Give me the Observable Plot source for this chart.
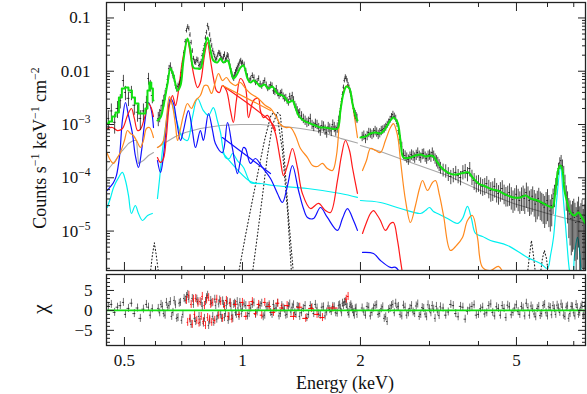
<!DOCTYPE html>
<html><head><meta charset="utf-8">
<script src="https://cdn.jsdelivr.net/npm/d3@7"></script>
<script src="https://cdn.jsdelivr.net/npm/@observablehq/plot@0.6"></script>
<style>
html,body{margin:0;padding:0;background:#fff;}
#chart{width:587px;height:394px;position:relative;overflow:hidden;}
#chart svg{display:block;}
</style></head><body><div id="chart"></div>
<script>
const FONT = "'Liberation Serif','Times New Roman',serif";

// ---- axis ticks ----
const xMajorTicks = [0.5, 1, 2, 5];
const xMinorTicks = [0.6, 0.7, 0.8, 0.9, 3, 4, 6, 7];
const yMajorTicks = [1e-5, 1e-4, 1e-3, 0.01, 0.1];
const yMinorTicks = [1e-6, 1e-5, 1e-4, 1e-3, 1e-2].flatMap(d => [2,3,4,5,6,7,8,9].map(k => k * d));
const rMajorTicks = [-5, 0, 5];
const rMinorTicks = [-8,-7,-6,-4,-3,-2,-1,1,2,3,4,6,7,8];
const xDomain = [0.45, 7.5];
const yDomain = [1.82e-6, 0.195];
const rDomain = [-8.8, 9];

// ---- model components: segments of [E keV, counts s-1 keV-1 cm-2] ----
const totalModelLow = [[0.452,1.04e-3],[0.461,1.14e-3],[0.469,1.41e-3],[0.480,1.68e-3],[0.488,3.21e-3],[0.497,4.73e-3],[0.506,4.94e-3],[0.518,4.34e-3],[0.527,3.21e-3],[0.537,2.48e-3],[0.549,1.61e-3],[0.562,1.61e-3],[0.569,2.0e-3],[0.576,4.34e-3],[0.582,6.14e-3],[0.589,4.73e-3],[0.593,2.82e-3]];
const totalModel = [
 [[0.607,1.19e-3],[0.618,1.35e-3],[0.629,2.27e-3],[0.644,5.88e-3],[0.655,0.0112],[0.667,8.3e-3],[0.683,4.34e-3],[0.695,5.39e-3],[0.707,0.0159],[0.724,0.0411],[0.737,0.0245],[0.750,0.0117],[0.768,0.0112],[0.781,0.0112],[0.795,0.0197],[0.814,0.0429],[0.829,0.0245],[0.843,0.0159],[0.863,0.0146],[0.879,0.0173],[0.894,0.0146],[0.916,0.0159],[0.932,0.0112],[0.948,7.3e-3],[0.971,9.06e-3],[0.988,0.0117],[1.006,0.0128],[1.030,7.3e-3],[1.048,6.14e-3],[1.067,6.69e-3],[1.092,5.88e-3],[1.111,5.16e-3],[1.138,5.62e-3],[1.165,4.73e-3],[1.192,5.16e-3],[1.228,3.82e-3],[1.265,3.50e-3],[1.288,3.08e-3],[1.310,2.59e-3],[1.341,2.82e-3],[1.365,2.08e-3],[1.390,1.48e-3],[1.431,1.19e-3],[1.491,1.04e-3],[1.536,9.58e-4],[1.581,8.78e-4],[1.628,8.78e-4],[1.677,8.41e-4],[1.747,8.41e-4],[1.778,1.83e-3],[1.810,3.82e-3],[1.842,5.16e-3],[1.875,4.73e-3],[1.908,2.48e-3],[1.942,1.48e-3],[1.965,1.19e-3]],
 [[2.0,5.70e-4],[2.060,5.96e-4],[2.121,6.78e-4],[2.185,7.08e-4],[2.249,6.78e-4],[2.316,8.41e-4],[2.385,1.19e-3],[2.428,1.35e-3],[2.486,1.09e-3],[2.530,5.01e-4],[2.575,2.40e-4],[2.683,2.40e-4],[2.763,2.62e-4],[2.846,2.74e-4],[2.930,2.51e-4],[3.018,2.62e-4],[3.071,2.51e-4],[3.145,1.94e-4],[3.237,1.49e-4],[3.334,1.26e-4],[3.453,1.15e-4],[3.60,1.20e-4],[3.707,1.26e-4],[3.772,1.26e-4],[3.884,9.7e-5],[4.0,7.82e-5],[4.169,6.87e-5],[4.343,6.03e-5],[4.472,5.78e-5],[4.687,4.86e-5],[4.914,4.27e-5],[5.12,4.27e-5],[5.272,4.66e-5],[5.428,4.09e-5],[5.656,3.75e-5],[5.858,3.30e-5],[6.069,2.90e-5],[6.178,2.77e-5],[6.289,5.78e-5],[6.401,1.49e-4],[6.475,1.70e-4],[6.551,1.37e-4],[6.629,5.78e-5],[6.748,3.30e-5],[6.868,2.23e-5],[7.03,1.96e-5],[7.196,2.23e-5],[7.367,1.72e-5],[7.499,1.39e-5]]
];
const grayContinuum = [
 [[0.452,1.37e-4],[0.474,2.11e-4],[0.494,3.25e-4],[0.512,4.40e-4],[0.527,5.01e-4],[0.537,5.01e-4],[0.543,1.86e-4],[0.559,2.11e-4],[0.576,2.62e-4],[0.593,2.98e-4]],
 [[0.607,3.70e-4],[0.636,4.59e-4],[0.675,5.96e-4],[0.715,7.08e-4],[0.781,8.41e-4],[0.879,9.58e-4],[0.988,1.0e-3],[1.111,1.0e-3],[1.25,9.4e-4],[1.406,8.4e-4],[1.581,7.3e-4],[1.778,5.5e-4],[1.965,4.5e-4]],
 [[2.0,4.04e-4],[2.249,3.11e-4],[2.731,1.86e-4],[3.334,1.10e-4],[4.048,5.78e-5],[4.914,3.30e-5],[5.998,2.14e-5],[7.499,1.39e-5]]
];
const redComponent = [
 [[0.452,8.41e-4],[0.466,8.78e-4],[0.480,7.71e-4],[0.494,8.41e-4],[0.509,1.48e-3],[0.521,2.0e-3],[0.530,1.30e-3],[0.540,7.71e-4],[0.549,8.05e-4],[0.562,1.30e-3],[0.576,2.48e-3],[0.586,2.0e-3],[0.593,1.41e-3]],
 [[0.607,2.40e-4],[0.618,1.94e-4],[0.629,2.30e-4],[0.640,6.22e-4],[0.651,2.27e-3],[0.663,3.50e-3],[0.675,2.27e-3],[0.687,4.34e-3],[0.703,0.0159],[0.724,0.0377],[0.737,0.0197],[0.750,9.06e-3],[0.768,4.94e-3],[0.781,6.14e-3],[0.800,0.0197],[0.814,0.0345],[0.829,0.0159],[0.843,7.62e-3],[0.858,4.34e-3],[0.874,3.98e-3],[0.889,5.39e-3],[0.910,4.34e-3],[0.932,1.83e-3],[0.948,1.09e-3],[0.965,2.82e-3],[0.988,7.3e-3],[1.018,4.94e-3],[1.036,1.35e-3],[1.067,2.82e-3],[1.098,3.08e-3],[1.111,1.83e-3],[1.131,1.35e-3],[1.158,1.48e-3],[1.192,9.58e-4],[1.214,6.78e-4],[1.25,2.11e-4],[1.273,1.10e-4],[1.303,1.70e-4],[1.341,3.55e-4],[1.381,1.56e-4],[1.422,5.08e-5],[1.491,2.65e-5],[1.563,3.30e-5],[1.628,2.43e-5],[1.677,2.23e-5],[1.747,8.89e-5],[1.789,2.62e-4],[1.831,5.01e-4],[1.875,3.25e-4],[1.908,1.56e-4],[1.965,5.08e-5]],
 [[2.024,9.02e-6],[2.072,1.45e-5],[2.121,2.14e-5],[2.159,2.43e-5],[2.21,1.96e-5],[2.249,1.58e-5],[2.316,1.03e-5],[2.385,1.39e-5],[2.428,1.45e-5],[2.486,6.66e-6],[2.530,2.81e-6],[2.575,1.2e-6]],
 [[0.889,5.39e-3],[1.192,1.04e-3],[1.214,7.7e-4]]
];
const orangeComponent = [
 [[0.452,2.86e-4],[0.461,2.11e-4],[0.469,1.86e-4],[0.480,2.40e-4],[0.488,2.98e-4],[0.500,5.01e-4],[0.509,7.71e-4],[0.518,6.78e-4],[0.527,6.22e-4],[0.540,4.59e-4],[0.549,3.70e-4],[0.559,5.01e-4],[0.569,8.41e-4],[0.579,8.78e-4],[0.593,5.70e-4]],
 [[0.607,3.70e-4],[0.618,4.04e-4],[0.629,5.01e-4],[0.640,1.30e-3],[0.651,3.35e-3],[0.663,2.27e-3],[0.675,9.58e-4],[0.683,5.01e-4],[0.695,8.41e-4],[0.707,1.48e-3],[0.724,2.48e-3],[0.741,2.0e-3],[0.759,2.82e-3],[0.781,3.50e-3],[0.800,5.39e-3],[0.814,5.39e-3],[0.834,3.82e-3],[0.848,5.39e-3],[0.869,9.06e-3],[0.889,6.69e-3],[0.910,7.62e-3],[0.932,6.14e-3],[0.960,5.39e-3],[0.988,6.14e-3],[1.018,4.73e-3],[1.048,3.82e-3],[1.079,3.35e-3],[1.111,2.82e-3],[1.145,2.27e-3],[1.179,2.0e-3],[1.214,1.48e-3],[1.25,1.0e-3],[1.288,8.78e-4],[1.326,8.78e-4],[1.365,6.22e-4],[1.406,3.55e-4],[1.465,2.40e-4],[1.509,1.70e-4],[1.554,1.63e-4],[1.600,1.86e-4],[1.647,1.49e-4],[1.697,1.37e-4],[1.737,2.62e-4],[1.778,1.83e-3],[1.821,4.73e-3],[1.853,5.39e-3],[1.886,3.98e-3],[1.920,1.83e-3],[1.965,5.70e-4]],
 [[2.024,1.37e-4],[2.072,2.11e-4],[2.121,3.55e-4],[2.185,3.25e-4],[2.249,2.98e-4],[2.316,5.01e-4],[2.385,8.78e-4],[2.428,1.04e-3],[2.486,6.22e-4],[2.530,2.11e-4],[2.606,3.75e-5],[2.683,1.45e-5],[2.763,3.02e-5],[2.829,6.30e-5],[2.880,8.89e-5],[2.965,5.78e-5],[3.053,8.16e-5],[3.107,8.89e-5],[3.182,4.66e-5],[3.258,1.96e-5],[3.393,4.33e-6],[3.515,5.37e-6],[3.641,7.59e-6],[3.750,1.58e-5],[3.861,1.96e-5],[3.976,7.59e-6],[4.096,2.08e-6],[4.293,1.82e-6],[4.498,2.17e-6],[4.65,1.5e-6]],
 [[0.889,5.4e-3],[1.179,1.83e-3]]
];
const cyanComponent = [
 [[0.452,2.77e-5],[0.461,4.27e-5],[0.469,6.58e-5],[0.483,1.01e-4],[0.494,1.26e-4],[0.503,8.89e-5],[0.512,4.66e-5],[0.521,2.14e-5],[0.533,3.02e-5],[0.543,2.14e-5],[0.556,1.58e-5],[0.573,1.96e-5],[0.589,2.14e-5]],
 [[0.607,4.09e-5],[0.614,8.89e-5],[0.625,3.25e-4],[0.640,1.19e-3],[0.655,2.82e-3],[0.671,1.68e-3],[0.687,8.78e-4],[0.703,5.70e-4],[0.724,5.01e-4],[0.745,1.35e-3],[0.768,3.08e-3],[0.795,1.83e-3],[0.819,1.48e-3],[0.843,2.08e-3],[0.863,1.19e-3],[0.879,7.08e-4],[0.905,2.40e-4],[0.926,2.30e-4],[0.943,2.86e-4],[0.971,2.11e-4],[1.006,1.56e-4],[1.048,8.16e-5],[1.079,7.82e-5],[1.111,7.82e-5],[1.200,7.17e-5],[1.465,6.30e-5],[1.778,5.08e-5],[1.965,4.3e-5]],
 [[2.0,3.75e-5],[2.249,3.44e-5],[2.530,2.65e-5],[2.846,2.14e-5],[2.930,2.43e-5],[3.0,2.77e-5],[3.071,2.33e-5],[3.145,2.14e-5],[3.334,1.72e-5],[3.536,1.39e-5],[3.641,1.72e-5],[3.750,2.90e-5],[3.838,1.72e-5],[3.930,9.02e-6],[4.096,7.92e-6],[4.293,6.66e-6],[4.742,5.37e-6],[5.333,3.2e-6],[5.756,2.47e-6],[5.998,1.99e-6],[6.106,3.48e-6],[6.215,7.59e-6],[6.33,3.75e-5],[6.475,1.56e-4],[6.590,3.75e-5],[6.708,7.59e-6],[6.827,1.82e-6],[6.95,1.0e-6],[7.03,3.48e-6],[7.155,7.59e-6],[7.239,4.33e-6],[7.33,1.0e-6]],
 [[0.889,3.0e-4],[1.048,8.5e-5],[1.111,7.8e-5]]
];
const blueComponent = [
 [[0.452,5.78e-5],[0.461,6.87e-5],[0.469,8.16e-5],[0.477,1.10e-4],[0.486,2.62e-4],[0.494,1.19e-3],[0.503,2.59e-3],[0.512,1.48e-3],[0.524,6.78e-4],[0.533,2.62e-4],[0.543,1.56e-4],[0.553,3.25e-4],[0.562,9.58e-4],[0.576,2.59e-3],[0.586,1.83e-3],[0.593,8.78e-4]],
 [[0.607,2.11e-4],[0.618,1.26e-4],[0.629,2.62e-4],[0.640,9.58e-4],[0.655,3.08e-3],[0.667,2.48e-3],[0.679,1.19e-3],[0.695,5.01e-4],[0.707,7.71e-4],[0.728,1.83e-3],[0.745,7.71e-4],[0.759,3.70e-4],[0.781,7.71e-4],[0.795,5.01e-4],[0.819,1.61e-3],[0.839,7.71e-4],[0.853,4.40e-4],[0.889,2.98e-4],[0.916,1.09e-3],[0.943,3.55e-4],[0.971,1.20e-4],[0.988,2.11e-4],[1.006,3.70e-4],[1.018,3.55e-4],[1.048,1.86e-4],[1.079,2.30e-4],[1.125,1.56e-4],[1.179,9.7e-5],[1.228,5.08e-5],[1.265,3.44e-5],[1.303,7.17e-5],[1.341,1.70e-4],[1.390,5.78e-5],[1.431,2.65e-5],[1.465,1.80e-5],[1.518,1.72e-5],[1.581,2.77e-5],[1.647,1.80e-5],[1.747,1.03e-5],[1.799,1.72e-5],[1.853,2.65e-5],[1.920,1.58e-5],[1.965,1.03e-5]],
 [[2.024,3.97e-6],[2.159,3.80e-6],[2.249,2.81e-6],[2.385,2.08e-6],[2.457,2.08e-6],[2.530,1.6e-6]],
 [[0.889,5.7e-4],[1.179,1.2e-4]]
];
const dottedLines = [
 [[0.977,1.6e-6],[1.018,8.27e-6],[1.060,3.75e-5],[1.098,1.37e-4],[1.138,5.01e-4],[1.179,1.41e-3],[1.200,1.68e-3],[1.228,1.35e-3],[1.265,3.25e-4],[1.303,2.43e-5],[1.334,1.6e-6]],
 [[1.060,1.6e-6],[1.092,8.27e-6],[1.125,4.66e-5],[1.158,2.62e-4],[1.192,9.58e-4],[1.228,1.68e-3],[1.25,1.48e-3],[1.280,2.11e-4],[1.310,1.96e-5],[1.349,1.6e-6]],
 [[0.582,1.6e-6],[0.589,3.48e-6],[0.596,6.0e-6],[0.603,3.48e-6],[0.611,1.6e-6]],
 [[5.333,1.6e-6],[5.397,3.48e-6],[5.460,6.66e-6],[5.525,3.48e-6],[5.590,1.6e-6]],
 [[5.756,1.6e-6],[5.824,3.06e-6],[5.892,4.33e-6],[5.963,3.06e-6],[6.033,1.6e-6]]
];

// ---- observed spectrum: [E keV, counts, relative error, chi residual] ----
const blackData = [
 [0.455,1.3e-3,.4,1.0],[0.463,1.8e-3,.35,1.5],[0.472,1.1e-3,.4,-0.5],[0.480,2.0e-3,.35,0.8],[0.488,2.8e-3,.3,1.2],[0.497,6.7e-3,.25,2.0],[0.503,4.0e-3,.3,-1.0],[0.512,3.1e-3,.3,0.5],[0.521,4.0e-3,.3,1.8],[0.530,2.3e-3,.35,-0.8],[0.540,1.7e-3,.35,0.6],[0.549,1.3e-3,.4,-2.0],[0.559,1.8e-3,.35,0.3],[0.569,2.6e-3,.3,1.5],[0.576,7.3e-3,.25,0.8],[0.582,5.4e-3,.25,-1.2],[0.589,3.5e-3,.3,0.4],
 [0.61,1.3e-3,.3,0.5],[0.62,1.83e-3,.25,1.5],[0.63,2.82e-3,.25,-0.8],[0.64,4.73e-3,.2,2.0],[0.65,0.0112,.15,1.2],[0.66,0.0103,.15,-1.5],[0.67,7.3e-3,.15,2.5],[0.68,4.73e-3,.15,-2.0],[0.69,5.6e-3,.15,1.8],[0.70,9.5e-3,.12,-2.5],[0.71,0.0224,.1,3.0],[0.72,0.058,.1,3.5],[0.73,0.063,.1,2.8],[0.74,0.0345,.1,-3.5],[0.75,0.0173,.1,1.5],[0.76,0.0146,.12,-2.8],[0.77,0.0159,.12,2.2],[0.78,0.0134,.12,-3.0],[0.79,0.0197,.1,1.0],[0.80,0.0303,.1,-2.0],[0.81,0.0532,.1,3.2],[0.82,0.063,.1,-3.8],[0.83,0.0377,.1,2.5],[0.84,0.0245,.1,-1.5],[0.85,0.0189,.1,2.8],[0.86,0.0173,.1,-2.2],[0.87,0.0224,.1,1.6],[0.88,0.0197,.12,-1.0],[0.89,0.0159,.12,2.4],[0.90,0.0206,.12,-1.8],[0.91,0.0173,.12,1.2],[0.92,0.0189,.12,-2.5],[0.93,0.0122,.12,2.0],[0.94,8.7e-3,.12,-1.2],[0.95,7.3e-3,.12,1.5],[0.96,9.5e-3,.12,-0.5],[0.97,0.0112,.12,2.2],[0.98,0.0134,.1,-1.5],[0.99,0.0159,.1,1.0],[1.00,0.0146,.1,0.5],
 [1.02,0.0103,.1,1.2],[1.04,6.7e-3,.12,-0.8],[1.06,8.3e-3,.12,1.5],[1.08,6.1e-3,.12,-1.0],[1.10,7.3e-3,.12,0.8],[1.12,5.2e-3,.12,1.8],[1.14,6.7e-3,.12,-1.2],[1.16,4.7e-3,.12,1.0],[1.18,5.6e-3,.12,-0.5],[1.20,4.3e-3,.15,1.5],[1.22,4.7e-3,.15,0.6],[1.24,3.5e-3,.15,-1.4],[1.26,4.0e-3,.15,1.2],[1.28,3.1e-3,.15,0.3],[1.30,2.8e-3,.15,-1.0],[1.32,3.35e-3,.15,1.6],[1.34,3.5e-3,.15,0.8],[1.36,2.37e-3,.15,-0.6],[1.38,1.83e-3,.18,1.0],[1.40,1.68e-3,.18,-1.5],[1.43,1.3e-3,.2,0.5],[1.46,1.09e-3,.2,-1.8],[1.49,1.3e-3,.2,1.2],[1.52,9.2e-4,.2,-0.8],[1.55,1.0e-3,.2,0.6],[1.58,7.7e-4,.22,-1.2],[1.61,9.2e-4,.22,0.9],[1.64,7.1e-4,.22,-0.4],[1.67,8.4e-4,.22,0.2],[1.70,1.0e-3,.22,1.0],[1.73,7.7e-4,.22,-0.6],[1.76,1.19e-3,.2,1.2],[1.78,2.0e-3,.15,0.5],[1.80,3.66e-3,.12,1.8],[1.82,6.7e-3,.1,2.0],[1.84,7.3e-3,.1,1.5],[1.86,5.6e-3,.1,-0.5],[1.88,4.3e-3,.12,1.0],[1.90,3.1e-3,.12,0.8],[1.92,2.0e-3,.15,-0.6],[1.94,1.54e-3,.2,0.4],[1.96,1.3e-3,.2,-1.0],
 [2.02,5.96e-4,.2,0.6],[2.06,5.46e-4,.2,-1.2],[2.10,7.08e-4,.2,0.8],[2.14,6.5e-4,.2,-0.5],[2.18,7.7e-4,.2,1.2],[2.22,6.5e-4,.2,-1.0],[2.26,7.7e-4,.2,0.4],[2.30,8.4e-4,.18,-2.0],[2.34,1.0e-3,.15,-2.8],[2.38,1.24e-3,.15,0.5],[2.42,1.54e-3,.15,1.5],[2.46,1.3e-3,.15,1.8],[2.50,7.7e-4,.18,1.0],[2.55,3.87e-4,.2,-1.4],[2.60,2.62e-4,.22,0.8],[2.65,2.2e-4,.22,-0.6],[2.70,2.74e-4,.22,1.2],[2.75,2.4e-4,.22,-0.8],[2.80,2.98e-4,.22,1.6],[2.85,2.4e-4,.22,-1.0],[2.90,2.86e-4,.22,0.5],[2.95,2.3e-4,.22,-1.6],[3.00,2.74e-4,.22,0.4],[3.05,2.98e-4,.22,1.2],[3.10,2.3e-4,.22,-2.0],[3.15,1.94e-4,.25,-0.4],[3.20,1.56e-4,.25,0.9],[3.30,1.37e-4,.28,-1.2],[3.40,1.06e-4,.3,1.5],[3.50,1.26e-4,.3,-0.8],[3.60,1.01e-4,.3,1.0],[3.70,1.37e-4,.3,-2.2],[3.80,1.49e-4,.3,0.6],[3.90,8.9e-5,.35,1.4],[4.00,8.2e-5,.35,-1.0],[4.10,6.9e-5,.35,0.8],[4.20,7.8e-5,.35,-0.6],[4.30,5.8e-5,.4,1.6],[4.40,6.9e-5,.4,-1.4],[4.50,5.1e-5,.4,0.5],[4.60,6.3e-5,.4,1.2],[4.70,4.7e-5,.4,-1.8],[4.80,5.3e-5,.45,0.9],[4.90,3.9e-5,.45,-0.5],[5.00,4.9e-5,.45,1.4],[5.10,3.75e-5,.45,-1.0],[5.20,4.66e-5,.5,0.6],[5.30,5.3e-5,.5,1.8],[5.40,3.75e-5,.5,-1.2],[5.50,4.5e-5,.5,0.4],[5.60,3.2e-5,.55,-1.6],[5.70,4.1e-5,.55,1.0],[5.80,3.3e-5,.55,-0.8],[5.90,2.8e-5,.6,1.5],[6.00,3.75e-5,.6,-1.4],[6.10,2.4e-5,.6,0.7],[6.20,4.1e-5,.5,1.2],[6.30,7.2e-5,.35,-1.0],[6.40,1.49e-4,.25,0.6],[6.50,2.1e-4,.25,1.6],[6.60,1.26e-4,.3,-1.2],[6.70,4.7e-5,.5,0.8],[6.80,2.4e-5,.7,-2.0],[6.90,1.72e-5,.8,1.0],[7.00,2.2e-5,.8,-0.6],[7.10,1.45e-5,.9,1.5],[7.20,2.4e-5,.8,-1.0],[7.30,1.72e-5,.9,0.8],[7.40,1.27e-5,1.0,-1.4],[7.48,1.96e-5,.9,1.2]
];
// interleaved finer bins of the same spectrum: [E keV, counts, relative error, chi]
const blackDataFine = [
 [0.615,1.5e-3,.28,-0.6],[0.625,2.3e-3,.25,1.0],[0.635,3.6e-3,.22,-1.2],[0.645,7.0e-3,.18,0.8],[0.655,0.0125,.15,2.2],[0.665,8.5e-3,.15,-0.5],[0.675,5.5e-3,.15,1.4],[0.685,5.2e-3,.15,-1.8],[0.695,6.8e-3,.14,2.0],[0.705,0.014,.12,-1.0],[0.715,0.036,.1,2.6],[0.725,0.068,.1,4.0],[0.735,0.048,.1,-2.2],[0.745,0.024,.1,3.0],[0.755,0.015,.12,-2.0],[0.765,0.0165,.12,2.8],[0.775,0.0128,.12,-1.5],[0.785,0.015,.12,2.0],[0.795,0.0245,.1,-3.2],[0.805,0.042,.1,2.2],[0.815,0.072,.1,3.8],[0.825,0.048,.1,-2.6],[0.835,0.030,.1,1.8],[0.845,0.0215,.1,-3.0],[0.855,0.0165,.1,1.2],[0.865,0.020,.1,-1.4],[0.875,0.0215,.12,2.6],[0.885,0.017,.12,-2.0],[0.895,0.0185,.12,1.5],[0.905,0.016,.12,-0.8],[0.915,0.020,.12,2.2],[0.925,0.015,.12,-1.6],[0.935,0.010,.12,1.0],[0.945,7.8e-3,.12,-2.0],[0.955,8.4e-3,.12,1.8],[0.965,0.0105,.12,-1.0],[0.975,0.0125,.12,0.6],[0.985,0.015,.1,2.0],[0.995,0.014,.1,-0.8],
 [1.01,0.0135,.1,1.6],[1.03,8.0e-3,.12,-1.4],[1.05,7.2e-3,.12,0.6],[1.07,7.6e-3,.12,1.9],[1.09,6.4e-3,.12,-0.4],[1.11,5.8e-3,.12,1.2],[1.13,6.0e-3,.12,-1.6],[1.15,5.6e-3,.12,0.9],[1.17,5.0e-3,.12,1.4],[1.19,5.4e-3,.12,-1.0],[1.21,4.1e-3,.15,0.4],[1.23,3.9e-3,.15,1.8],[1.25,3.8e-3,.15,-0.8],[1.27,3.4e-3,.15,0.6],[1.29,3.2e-3,.15,-1.2],[1.31,2.6e-3,.15,1.0],[1.33,3.0e-3,.15,-0.4],[1.35,2.9e-3,.15,1.4],[1.37,2.1e-3,.16,-1.0],[1.39,1.6e-3,.18,0.8],[1.415,1.45e-3,.2,-0.6],[1.445,1.2e-3,.2,1.2],[1.475,1.15e-3,.2,-1.0],[1.505,1.0e-3,.2,0.7],[1.535,1.05e-3,.2,1.5],[1.565,8.6e-4,.22,-0.9],[1.595,9.6e-4,.22,0.8],[1.625,8.0e-4,.22,-1.4],[1.655,9.0e-4,.22,1.1],[1.685,7.6e-4,.22,-0.3],[1.715,9.0e-4,.22,0.9],[1.745,8.8e-4,.22,-0.7],[1.77,1.5e-3,.18,1.4],[1.79,2.7e-3,.14,-0.6],[1.81,5.0e-3,.1,1.2],[1.83,7.8e-3,.1,2.2],[1.85,6.6e-3,.1,0.8],[1.87,5.0e-3,.1,-1.0],[1.89,3.7e-3,.12,1.4],[1.91,2.6e-3,.14,0.2],[1.93,1.7e-3,.18,-1.2],[1.95,1.4e-3,.2,0.6],
 [2.04,6.3e-4,.2,-0.4],[2.08,6.2e-4,.2,1.0],[2.12,6.9e-4,.2,-1.4],[2.16,7.0e-4,.2,0.6],[2.20,7.2e-4,.2,1.4],[2.24,7.0e-4,.2,-0.8],[2.28,8.0e-4,.18,0.9],[2.32,9.0e-4,.17,-1.6],[2.36,1.1e-3,.15,0.2],[2.40,1.4e-3,.15,1.2],[2.44,1.42e-3,.15,-0.6],[2.48,1.05e-3,.16,0.8],[2.525,5.2e-4,.2,-1.0],[2.575,2.8e-4,.22,1.3],[2.625,2.4e-4,.22,-1.2],[2.675,2.5e-4,.22,0.5],[2.725,2.6e-4,.22,-0.4],[2.775,2.7e-4,.22,1.1],[2.825,2.6e-4,.22,-1.5],[2.875,2.8e-4,.22,0.7],[2.925,2.5e-4,.22,-0.9],[2.975,2.6e-4,.22,1.4],[3.025,2.5e-4,.22,-0.6],[3.075,2.6e-4,.22,0.3],[3.125,2.1e-4,.24,1.0],[3.175,1.75e-4,.25,-1.3],[3.25,1.42e-4,.27,0.6],[3.35,1.2e-4,.29,-0.4],[3.45,1.15e-4,.3,1.2],[3.55,1.1e-4,.3,-1.6],[3.65,1.3e-4,.3,0.8],[3.75,1.2e-4,.3,-0.2],[3.85,1.05e-4,.32,1.0],[3.95,8.0e-5,.35,-1.2],[4.05,7.4e-5,.35,0.4],[4.15,7.2e-5,.35,-0.9],[4.25,6.5e-5,.38,1.2],[4.35,6.0e-5,.4,-0.5],[4.45,5.6e-5,.4,0.9],[4.55,5.8e-5,.4,-1.2],[4.65,5.2e-5,.4,0.5],[4.75,4.9e-5,.42,1.3],[4.85,4.5e-5,.45,-1.1],[4.95,4.3e-5,.45,0.6],[5.05,4.2e-5,.45,-0.3],[5.15,4.4e-5,.47,1.0],[5.25,4.1e-5,.5,-1.4],[5.35,4.5e-5,.5,0.7],[5.45,4.0e-5,.5,1.1],[5.55,3.8e-5,.52,-0.9],[5.65,3.6e-5,.55,0.5],[5.75,3.5e-5,.55,-1.3],[5.85,3.1e-5,.57,1.2],[5.95,3.3e-5,.6,-0.6],[6.05,2.9e-5,.6,0.9],[6.15,3.0e-5,.6,-1.1],[6.25,5.0e-5,.45,0.4],[6.35,1.0e-4,.3,1.3],[6.45,1.9e-4,.25,-0.5],[6.55,1.7e-4,.27,0.8],[6.65,8.0e-5,.4,-1.5],[6.75,3.4e-5,.6,1.1],[6.85,2.1e-5,.75,-0.8],[6.95,2.0e-5,.8,0.9],[7.05,1.8e-5,.85,-1.4],[7.15,1.9e-5,.85,0.7],[7.25,1.5e-5,.9,-0.5],[7.35,2.0e-5,.9,1.3],[7.44,1.6e-5,.95,-1.0]
];
// second spectrum residuals: [E keV, chi]
const redResiduals = [[0.72,2.5],[0.725,-3.0],[0.73,3.8],[0.735,-2.0],[0.74,1.5],[0.745,-3.5],[0.75,2.8],[0.755,-1.0],[0.76,3.0],[0.765,-2.5],[0.77,1.8],[0.775,-3.2],[0.78,2.2],[0.785,-1.5],[0.79,3.5],[0.795,-2.8],[0.80,1.2],[0.805,-3.8],[0.81,2.6],[0.815,-1.8],[0.82,3.2],[0.825,-2.2],[0.83,1.5],[0.835,-3.0],[0.84,2.0],[0.85,-2.5],[0.86,2.8],[0.87,-1.2],[0.88,2.2],[0.89,-2.0],[0.90,1.0],[0.91,2.5],[0.92,-1.5],[0.93,1.8],[0.94,-2.2],[0.96,1.5],[0.98,-1.0],[1.00,2.0],[1.02,-1.5],[1.04,1.2],[1.06,2.2],[1.08,-0.8],[1.10,1.5],[1.12,-1.2],[1.14,2.0],[1.17,1.0],[1.20,-0.5],[1.23,1.8],[1.26,0.6],[1.30,1.2],[1.35,-1.5],[1.40,0.8],[1.45,-2.0],[1.50,0.5],[1.55,-1.0],[1.60,-1.8],[1.70,0.6],[1.84,2.8],[1.86,3.5]];

// ---- helpers ----
const segRows = segs => segs.flatMap((s, i) => s.map(([E, v]) => ({E, v, seg: i})));
function withBins(rows) {
  return rows.map((d, i) => {
    const rl = i > 0 ? Math.log(d.E / rows[i-1].E) : Infinity;
    const rr = i < rows.length - 1 ? Math.log(rows[i+1].E / d.E) : Infinity;
    let h = Math.min(rl, rr) / 2;
    if (!isFinite(h)) h = 0.005;
    return {...d, x1: d.E * Math.exp(-h), x2: d.E * Math.exp(h)};
  });
}
const black = withBins(blackData.concat(blackDataFine)
  .map(([E, v, s, chi]) => ({E, v, s, chi}))
  .sort((a, b) => a.E - b.E));
const red = withBins(redResiduals.map(([E, chi]) => ({E, chi})));

const compLine = (segs, color, w = 1.2, extra = {}) =>
  Plot.line(segRows(segs), {x: "E", y: "v", z: "seg", stroke: color, strokeWidth: w, curve: "catmull-rom", clip: true, ...extra});

const FRAME = "#222";
function frameTicks(xMaj, xMin, yMaj, yMin, majLen, minLen) {
  const o = {stroke: FRAME, strokeWidth: 1, tickFormat: () => "", label: null};
  return [
    Plot.axisX(xMaj, {...o, anchor: "bottom", tickSize: -majLen}),
    Plot.axisX(xMin, {...o, anchor: "bottom", tickSize: -minLen}),
    Plot.axisX(xMaj, {...o, anchor: "top", tickSize: -majLen}),
    Plot.axisX(xMin, {...o, anchor: "top", tickSize: -minLen}),
    Plot.axisY(yMaj, {...o, anchor: "left", tickSize: -majLen}),
    Plot.axisY(yMin, {...o, anchor: "left", tickSize: -minLen}),
    Plot.axisY(yMaj, {...o, anchor: "right", tickSize: -majLen}),
    Plot.axisY(yMin, {...o, anchor: "right", tickSize: -minLen})
  ];
}
const fmtMain = d => d >= 0.1 ? "0.1" : d >= 0.01 ? "0.01" : "10^−" + Math.round(-Math.log10(d));

const main = Plot.plot({
  width: 587, height: 272,
  marginLeft: 106, marginRight: 2, marginTop: 2, marginBottom: 2,
  x: {type: "log", domain: xDomain, label: null},
  y: {type: "log", domain: yDomain, label: null},
  style: `font-family:${FONT};font-size:17px;color:#111;background:#fff;overflow:visible;`,
  marks: [
    compLine(grayContinuum, "#a8a8a8", 1.1, {curve: "linear"}),
    Plot.line(segRows(dottedLines), {x: "E", y: "v", z: "seg", stroke: "#222", strokeWidth: 1.1, strokeDasharray: "1,2.4", clip: true}),
    compLine(cyanComponent, "#00f0f0"),
    compLine(blueComponent, "#1010ff"),
    compLine(redComponent, "#ff1a1a"),
    compLine(orangeComponent, "#ff8a1e"),
    Plot.ruleX(black, {x: "E", y1: d => Math.max(d.v * (1 - d.s), 1e-7), y2: d => d.v * (1 + d.s), stroke: "#000", strokeOpacity: 0.7, strokeWidth: 1, clip: true}),
    Plot.ruleY(black, {y: "v", x1: "x1", x2: "x2", stroke: "#000", strokeOpacity: 0.7, strokeWidth: 1, clip: true}),
    Plot.line(totalModelLow, {x: d => d[0], y: d => d[1], stroke: "#10e010", strokeWidth: 2, curve: "step", clip: true}),
    compLine(totalModel, "#10e010", 2),
    Plot.frame({stroke: FRAME, strokeWidth: 1.3}),
    ...frameTicks(xMajorTicks, xMinorTicks, yMajorTicks, yMinorTicks, 8, 4),
    Plot.axisY(yMajorTicks, {anchor: "left", tickSize: 0, tickPadding: 16, tickFormat: fmtMain, label: null, fontSize: 17})
  ]
});

const resid = Plot.plot({
  width: 587, height: 122,
  marginLeft: 106, marginRight: 2, marginTop: 2, marginBottom: 49,
  x: {type: "log", domain: xDomain, label: null},
  y: {domain: rDomain, label: null},
  style: `font-family:${FONT};font-size:17px;color:#111;background:#fff;overflow:visible;`,
  marks: [
    Plot.ruleX(black, {x: "E", y1: d => d.chi - 1, y2: d => d.chi + 1, stroke: "#000", strokeOpacity: 0.55, strokeWidth: 1, clip: true}),
    Plot.ruleY(black, {y: "chi", x1: "x1", x2: "x2", stroke: "#000", strokeOpacity: 0.7, strokeWidth: 1, clip: true}),
    Plot.ruleX(red, {x: "E", y1: d => d.chi - 1, y2: d => d.chi + 1, stroke: "#ff0000", strokeOpacity: 0.8, strokeWidth: 1, clip: true}),
    Plot.ruleY(red, {y: "chi", x1: "x1", x2: "x2", stroke: "#ff0000", strokeWidth: 1, clip: true}),
    Plot.ruleY([0], {stroke: "#10e010", strokeWidth: 1.6}),
    Plot.frame({stroke: FRAME, strokeWidth: 1.3}),
    ...frameTicks(xMajorTicks, xMinorTicks, rMajorTicks, rMinorTicks, 8, 4),
    Plot.axisY(rMajorTicks, {anchor: "left", tickSize: 0, tickPadding: 14, label: null, fontSize: 17}),
    Plot.text(xMajorTicks, {x: d => d, frameAnchor: "bottom", dy: 8, lineAnchor: "top", text: d => String(d), fontSize: 17, fill: "#111"})
  ]
});

const chart = document.getElementById("chart");
chart.appendChild(main);
chart.appendChild(resid);

// superscript tick labels like 10^-3
d3.select(main).selectAll("text").each(function () {
  const t = d3.select(this);
  const m = /^10\^(.+)$/.exec(t.text());
  if (m) {
    t.text("");
    t.append("tspan").text("10");
    t.append("tspan").attr("dy", "-7").attr("font-size", "11.5px").text(m[1]);
  }
});

function addLabel(svg, x, y, rot, size, parts) {
  const t = d3.select(svg).append("text")
    .attr("transform", `translate(${x},${y}) rotate(${rot})`)
    .attr("text-anchor", "middle").attr("font-family", FONT)
    .attr("font-size", size).attr("fill", "#111");
  let sup = false;
  for (const [s, isSup] of parts) {
    const sp = t.append("tspan").text(s);
    if (isSup && !sup) sp.attr("dy", -7).attr("font-size", size * 0.66);
    else if (!isSup && sup) sp.attr("dy", 7);
    else if (isSup) sp.attr("font-size", size * 0.66);
    sup = isSup;
  }
  return t;
}
addLabel(main, 46, 148, -90, 18, [["Counts s", false], ["−1", true], [" keV", false], ["−1", true], [" cm", false], ["−2", true]]);
addLabel(resid, 47, 37, -90, 22, [["χ", false]]);
addLabel(resid, 345, 117, 0, 18, [["Energy (keV)", false]]);
</script>
</body></html>
